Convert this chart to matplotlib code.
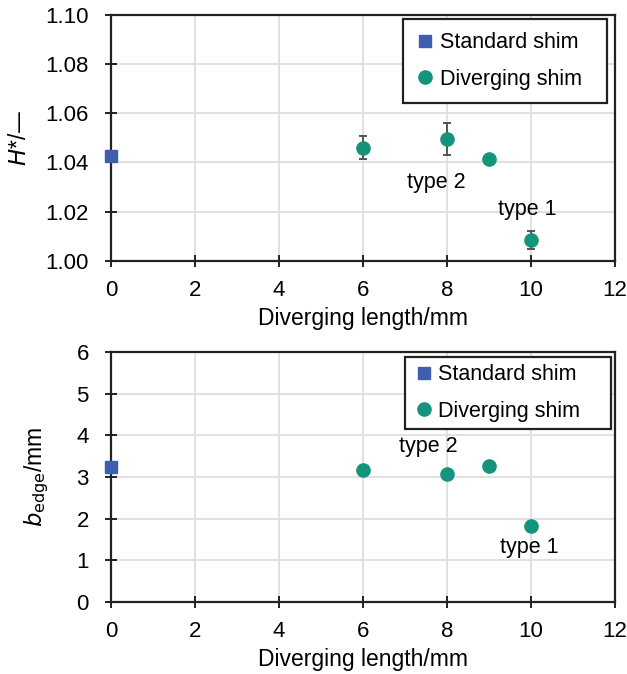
import matplotlib.pyplot as plt
from matplotlib.ticker import MultipleLocator

plt.rcParams['font.family'] = ['Liberation Sans', 'DejaVu Sans']
plt.rcParams['font.size'] = 16.5

# standard shim (x = 0)
std_x = [0]
std_H = [1.0425]
std_b = [3.23]

# diverging shim
div_x = [6, 8, 9, 10]
div_H = [1.046, 1.0495, 1.0415, 1.0085]
div_H_err = [0.0048, 0.0065, 0.0008, 0.0036]
div_b = [3.17, 3.08, 3.26, 1.81]
div_b_err = [0.05, 0.08, 0.04, 0.06]

BLUE = "#3f5fae"
TEAL = "#14947c"
ERR = "#555555"

fig = plt.figure(figsize=(6.27, 6.74), dpi=100)
ax1 = fig.add_axes([0.177, 0.613, 0.804, 0.365])
ax2 = fig.add_axes([0.177, 0.107, 0.804, 0.371])

def style(ax):
    ax.grid(True, color="#dcdcdc", linewidth=1.2)
    ax.set_axisbelow(True)
    for s in ax.spines.values():
        s.set_linewidth(1.6)
        s.set_color("#222222")
    ax.tick_params(direction="inout", length=8, width=1.4, color="#222222",
                   labelsize=16)
    ax.tick_params(axis="y", pad=12)
    ax.tick_params(axis="x", pad=10)
    ax.set_xlim(0, 12)
    ax.xaxis.set_major_locator(MultipleLocator(2))
    ax.set_xlabel("Diverging length/mm", labelpad=4)

def draw(ax, std_y, div_y, div_err, anchor, pad, hlen, htp, nsp):
    sp = " " * nsp
    ax.plot(std_x, std_y, "s", color=BLUE, markersize=9, clip_on=False,
            label="Standard shim" + sp, zorder=4)
    ax.errorbar(div_x, div_y, yerr=div_err, fmt="none", ecolor=ERR,
                elinewidth=1.4, capsize=3, capthick=1.4, zorder=2)
    ax.plot(div_x, div_y, "o", color=TEAL, markersize=9.5,
            label="Diverging shim" + sp, zorder=3)
    leg = ax.legend(loc="upper right", bbox_to_anchor=anchor, borderaxespad=0,
                    handletextpad=htp, handlelength=hlen, fontsize=15.5,
                    fancybox=False, edgecolor="#222222", framealpha=1,
                    labelspacing=0.72, borderpad=pad)
    leg.get_frame().set_linewidth(1.6)

# top: H*
draw(ax1, std_H, div_H, div_H_err, (0.984, 0.984), 0.62, 0.8, 0.3, 2)
ax1.set_ylim(1.00, 1.10)
ax1.yaxis.set_major_locator(MultipleLocator(0.02))
ax1.yaxis.set_major_formatter(plt.FormatStrFormatter("%.2f"))
ax1.set_ylabel("$\\mathit{H}$*/—", labelpad=10)
style(ax1)
ax1.text(7.75, 1.032, "type 2", ha="center", va="center", fontsize=15.5)
ax1.text(9.9, 1.021, "type 1", ha="center", va="center", fontsize=15.5)

# bottom: b_edge
draw(ax2, std_b, div_b, div_b_err, (0.992, 0.98), 0.35, 1.0, 0.14, 4)
ax2.set_ylim(0, 6)
ax2.yaxis.set_major_locator(MultipleLocator(1))
ax2.set_ylabel("$\\mathit{b}_{\\mathrm{edge}}$/mm", labelpad=18)
style(ax2)
ax2.text(7.55, 3.74, "type 2", ha="center", va="center", fontsize=15.5)
ax2.text(9.95, 1.3, "type 1", ha="center", va="center", fontsize=15.5)

fig.savefig("out.png", dpi=100)
